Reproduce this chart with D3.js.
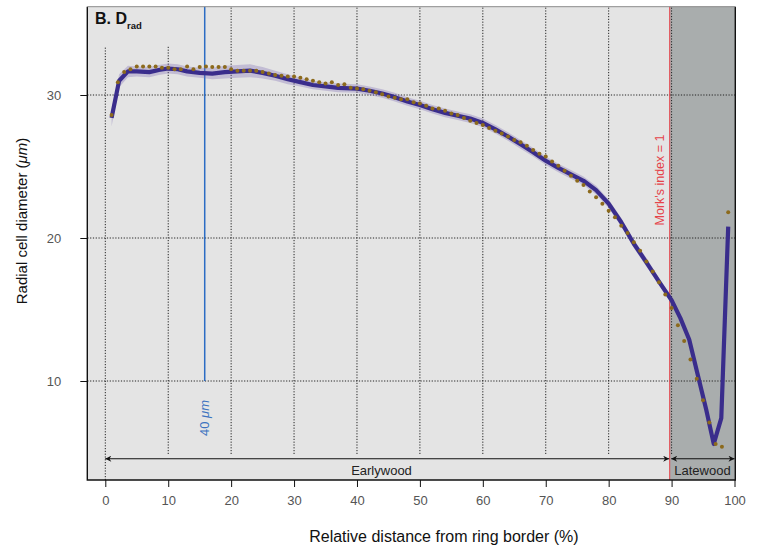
<!DOCTYPE html>
<html>
<head>
<meta charset="utf-8">
<script src="https://cdn.jsdelivr.net/npm/d3@7"></script>
<style>
  body { margin: 0; background: #fff; }
  text { font-family: "Liberation Sans", Arial, Helvetica, sans-serif; }
</style>
</head>
<body>
<div id="chart"></div>
<script>
// ===================== DATA =====================
// measured cell diameters (dots), one per % step starting at 1
const dotStart = 1;
const dotValues = [
  28.6, 30.9, 31.6, 31.8, 32.0, 32.0, 32.0, 32.0, 31.9, 31.9,
  31.8, 31.8, 32.0, 31.8, 31.95, 32.0, 31.95, 31.95, 31.95, 31.8,
  31.7, 31.7, 31.7, 31.7, 31.6, 31.5, 31.4, 31.35, 31.3, 31.3,
  31.2, 31.1, 31.0, 30.9, 30.8, 30.9, 30.7, 30.75, 30.5, 30.45,
  30.4, 30.3, 30.2, 30.05, 29.9, 29.8, 29.7, 29.7, 29.5, 29.4,
  29.25, 29.05, 29.05, 28.9, 28.7, 28.6, 28.4, 28.2, 28.05, 27.9,
  27.7, 27.5, 27.3, 27.1, 26.85, 26.7, 26.45, 26.15, 25.9, 25.7,
  25.35, 25.05, 24.7, 24.35, 24.0, 23.7, 23.25, 22.85, 22.4, 21.9,
  21.45, 20.85, 20.35, 19.7, 19.1, 18.35, 17.65, 16.9, 16.05, 15.1,
  13.9, 12.8, 11.5, 10.15, 8.65, 7.1, 5.6, 5.4, 21.8
];

// smoothed fit (line) and its standard error band
const smoothX = [1.0, 2.2, 3.6, 5, 7, 8.5, 10, 11.5, 13, 15, 17, 19, 21, 23, 25, 27, 29, 31, 33, 35,
  37, 40, 42, 44, 46, 48, 50, 52, 54, 56, 58, 60, 62, 64, 66, 68, 70, 72, 74, 76,
  78, 80, 82, 84, 86, 88, 90, 91.4, 92.8, 94.1, 95.5, 96.7, 97.9, 99];
const smoothY = [28.4, 31.0, 31.65, 31.65, 31.6, 31.75, 31.85, 31.8, 31.65, 31.55, 31.5, 31.6, 31.65, 31.7, 31.55, 31.35, 31.1, 30.9, 30.7, 30.6,
  30.5, 30.45, 30.3, 30.1, 29.85, 29.55, 29.3, 29.0, 28.75, 28.55, 28.35, 28.05, 27.6, 27.1, 26.55, 26.0, 25.4, 24.9, 24.45, 24.0,
  23.35, 22.4, 21.1, 19.6, 18.3, 16.95, 15.65, 14.4, 12.9, 10.55, 8.0, 5.6, 7.4, 20.8];
const smoothSE = [0.6, 0.45, 0.4, 0.35, 0.35, 0.35, 0.35, 0.35, 0.35, 0.35, 0.4, 0.45, 0.45, 0.45, 0.4, 0.35, 0.35, 0.3, 0.3, 0.3,
  0.3, 0.3, 0.3, 0.3, 0.3, 0.3, 0.3, 0.3, 0.3, 0.3, 0.3, 0.3, 0.3, 0.3, 0.3, 0.3, 0.3, 0.3, 0.3, 0.3,
  0.3, 0.3, 0.3, 0.3, 0.3, 0.25, 0.2, 0.15, 0.15, 0.15, 0.15, 0.3, 0.15, 0.2];

const xTicks = [0, 10, 20, 30, 40, 50, 60, 70, 80, 90, 100];
const yTicks = [10, 20, 30];
const gridX = [0, 10, 20, 30, 40, 50, 60, 70, 80, 90];
const morkIndex = 89.7;   // Mork's index = 1 boundary
const cell40 = 15.8;      // 40 um marker
const cell40Top = 10;

// ===================== SETUP =====================
const W = 764, H = 555;
const panel = { left: 87.3, top: 6.7, right: 735.3, bottom: 480 };

const svg = d3.select("#chart").append("svg")
  .attr("width", W).attr("height", H);

const x = d3.scaleLinear().domain([0, 100]).range([105.3, 734.5]);
const y = d3.scaleLinear().domain([10, 30]).range([381, 95]);

// ===================== PANEL =====================
svg.append("rect")
  .attr("x", panel.left).attr("y", panel.top)
  .attr("width", panel.right - panel.left).attr("height", panel.bottom - panel.top)
  .attr("fill", "#e4e4e4");

// latewood shading
svg.append("rect")
  .attr("x", x(morkIndex)).attr("y", panel.top)
  .attr("width", panel.right - x(morkIndex)).attr("height", panel.bottom - panel.top)
  .attr("fill", "#a9adad");

// grid lines
const arrowY = 458.7;
svg.append("g").selectAll("line").data(gridX).join("line")
  .attr("x1", d => x(d)).attr("x2", d => x(d))
  .attr("y1", d => d === 0 ? panel.bottom : 454)
  .attr("y2", d => d < 20 ? 46 : panel.top)
  .attr("stroke", "#222").attr("stroke-width", 1)
  .attr("stroke-dasharray", "1.2,1.6");

svg.append("g").selectAll("line").data(yTicks).join("line")
  .attr("x1", panel.left).attr("x2", panel.right)
  .attr("y1", d => y(d)).attr("y2", d => y(d))
  .attr("stroke", "#222").attr("stroke-width", 1)
  .attr("stroke-dasharray", "1.2,1.6");

// 40 um marker
svg.append("line")
  .attr("x1", x(cell40)).attr("x2", x(cell40))
  .attr("y1", panel.top).attr("y2", y(cell40Top))
  .attr("stroke", "#2b6cc4").attr("stroke-width", 1.5);

svg.append("text")
  .attr("transform", `translate(${x(cell40) + 4.5},418) rotate(-90)`)
  .attr("text-anchor", "middle")
  .attr("fill", "#3b72c0")
  .style("font-size", "13px")
  .text("40 ")
  .append("tspan").style("font-style", "italic").text("μm");

// Mork's index line
svg.append("line")
  .attr("x1", x(morkIndex)).attr("x2", x(morkIndex))
  .attr("y1", panel.top).attr("y2", panel.bottom)
  .attr("stroke", "#e5434a").attr("stroke-width", 1);

svg.append("text")
  .attr("transform", `translate(${x(morkIndex) - 6},180) rotate(-90)`)
  .attr("text-anchor", "middle")
  .attr("fill", "#e5434a")
  .style("font-size", "12.5px")
  .text("Mork's index = 1");

// ===================== FIT + DOTS =====================
const fit = smoothX.map((d, i) => ({ x: d, y: smoothY[i], se: smoothSE[i] }));

svg.append("path").datum(fit)
  .attr("d", d3.area().x(d => x(d.x)).y0(d => y(d.y - d.se)).y1(d => y(d.y + d.se)))
  .attr("fill", "rgba(125,105,180,0.33)");

svg.append("path").datum(fit)
  .attr("d", d3.line().x(d => x(d.x)).y(d => y(d.y)))
  .attr("fill", "none")
  .attr("stroke", "#3a2d8c").attr("stroke-width", 4.2)
  .attr("stroke-linejoin", "round");

svg.append("g").selectAll("circle").data(dotValues).join("circle")
  .attr("cx", (d, i) => x(dotStart + i))
  .attr("cy", d => y(d))
  .attr("r", 2)
  .attr("fill", "#8c6a1c");

// ===================== ARROWS =====================
const defs = svg.append("defs");
defs.append("marker").attr("id", "head")
  .attr("markerUnits", "userSpaceOnUse")
  .attr("viewBox", "0 0 10 10").attr("refX", 10).attr("refY", 5)
  .attr("markerWidth", 7).attr("markerHeight", 6)
  .attr("orient", "auto-start-reverse")
  .append("path").attr("d", "M0,0 L10,5 L0,10 L3,5 Z").attr("fill", "#111");

svg.append("line")
  .attr("x1", x(0)).attr("x2", x(morkIndex) - 0.5)
  .attr("y1", arrowY).attr("y2", arrowY)
  .attr("stroke", "#111").attr("stroke-width", 1.1)
  .attr("marker-start", "url(#head)").attr("marker-end", "url(#head)");

svg.append("line")
  .attr("x1", x(morkIndex) + 1.5).attr("x2", x(100))
  .attr("y1", arrowY).attr("y2", arrowY)
  .attr("stroke", "#111").attr("stroke-width", 1.1)
  .attr("marker-start", "url(#head)").attr("marker-end", "url(#head)");

svg.append("text")
  .attr("x", (x(0) + x(morkIndex)) / 2 - 6).attr("y", 474.5)
  .attr("text-anchor", "middle").attr("fill", "#222")
  .style("font-size", "13px").text("Earlywood");

svg.append("text")
  .attr("x", (x(morkIndex) + panel.right) / 2).attr("y", 474.5)
  .attr("text-anchor", "middle").attr("fill", "#222")
  .style("font-size", "13px").text("Latewood");

// ===================== TITLE =====================
svg.append("rect")
  .attr("x", panel.left + 1).attr("y", panel.top + 1)
  .attr("width", 100).attr("height", 38)
  .attr("fill", "#e4e4e4");

const title = svg.append("text")
  .attr("x", 95).attr("y", 24)
  .attr("fill", "#111")
  .style("font-weight", "bold").style("font-size", "16px");
title.append("tspan").text("B. D");
title.append("tspan").attr("dy", 5).style("font-size", "9.5px").text("rad");

// panel border
svg.append("path")
  .attr("d", `M${panel.left},${panel.top} V${panel.bottom} H${panel.right} V${panel.top}`)
  .attr("fill", "none").attr("stroke", "#111").attr("stroke-width", 1.4);
svg.append("line")
  .attr("x1", panel.left).attr("x2", panel.right)
  .attr("y1", panel.top).attr("y2", panel.top)
  .attr("stroke", "#8a8a8a").attr("stroke-width", 1);

// ===================== AXES =====================
const xAxis = svg.append("g")
  .attr("transform", `translate(0,${panel.bottom})`)
  .call(d3.axisBottom(x).tickValues(xTicks).tickSize(7).tickPadding(9));
xAxis.select(".domain").remove();
xAxis.selectAll("line").attr("stroke", "#111");
xAxis.selectAll("text").attr("fill", "#555").style("font-size", "13px")
  .style("font-family", "'Liberation Sans', Arial, sans-serif");

const yAxis = svg.append("g")
  .attr("transform", `translate(${panel.left},0)`)
  .call(d3.axisLeft(y).tickValues(yTicks).tickSize(7).tickPadding(19));
yAxis.select(".domain").remove();
yAxis.selectAll("line").attr("stroke", "#111");
yAxis.selectAll("text").attr("fill", "#555").style("font-size", "13px")
  .style("font-family", "'Liberation Sans', Arial, sans-serif");

svg.append("text")
  .attr("x", (x(0) + x(100)) / 2 + 24).attr("y", 542)
  .attr("text-anchor", "middle").attr("fill", "#111")
  .style("font-size", "16px")
  .text("Relative distance from ring border (%)");

const yLabel = svg.append("text")
  .attr("transform", "translate(27,221) rotate(-90)")
  .attr("text-anchor", "middle").attr("fill", "#111")
  .style("font-size", "15px")
  .text("Radial cell diameter  (");
yLabel.append("tspan").style("font-style", "italic").text("μm");
yLabel.append("tspan").text(")");
</script>
</body>
</html>
